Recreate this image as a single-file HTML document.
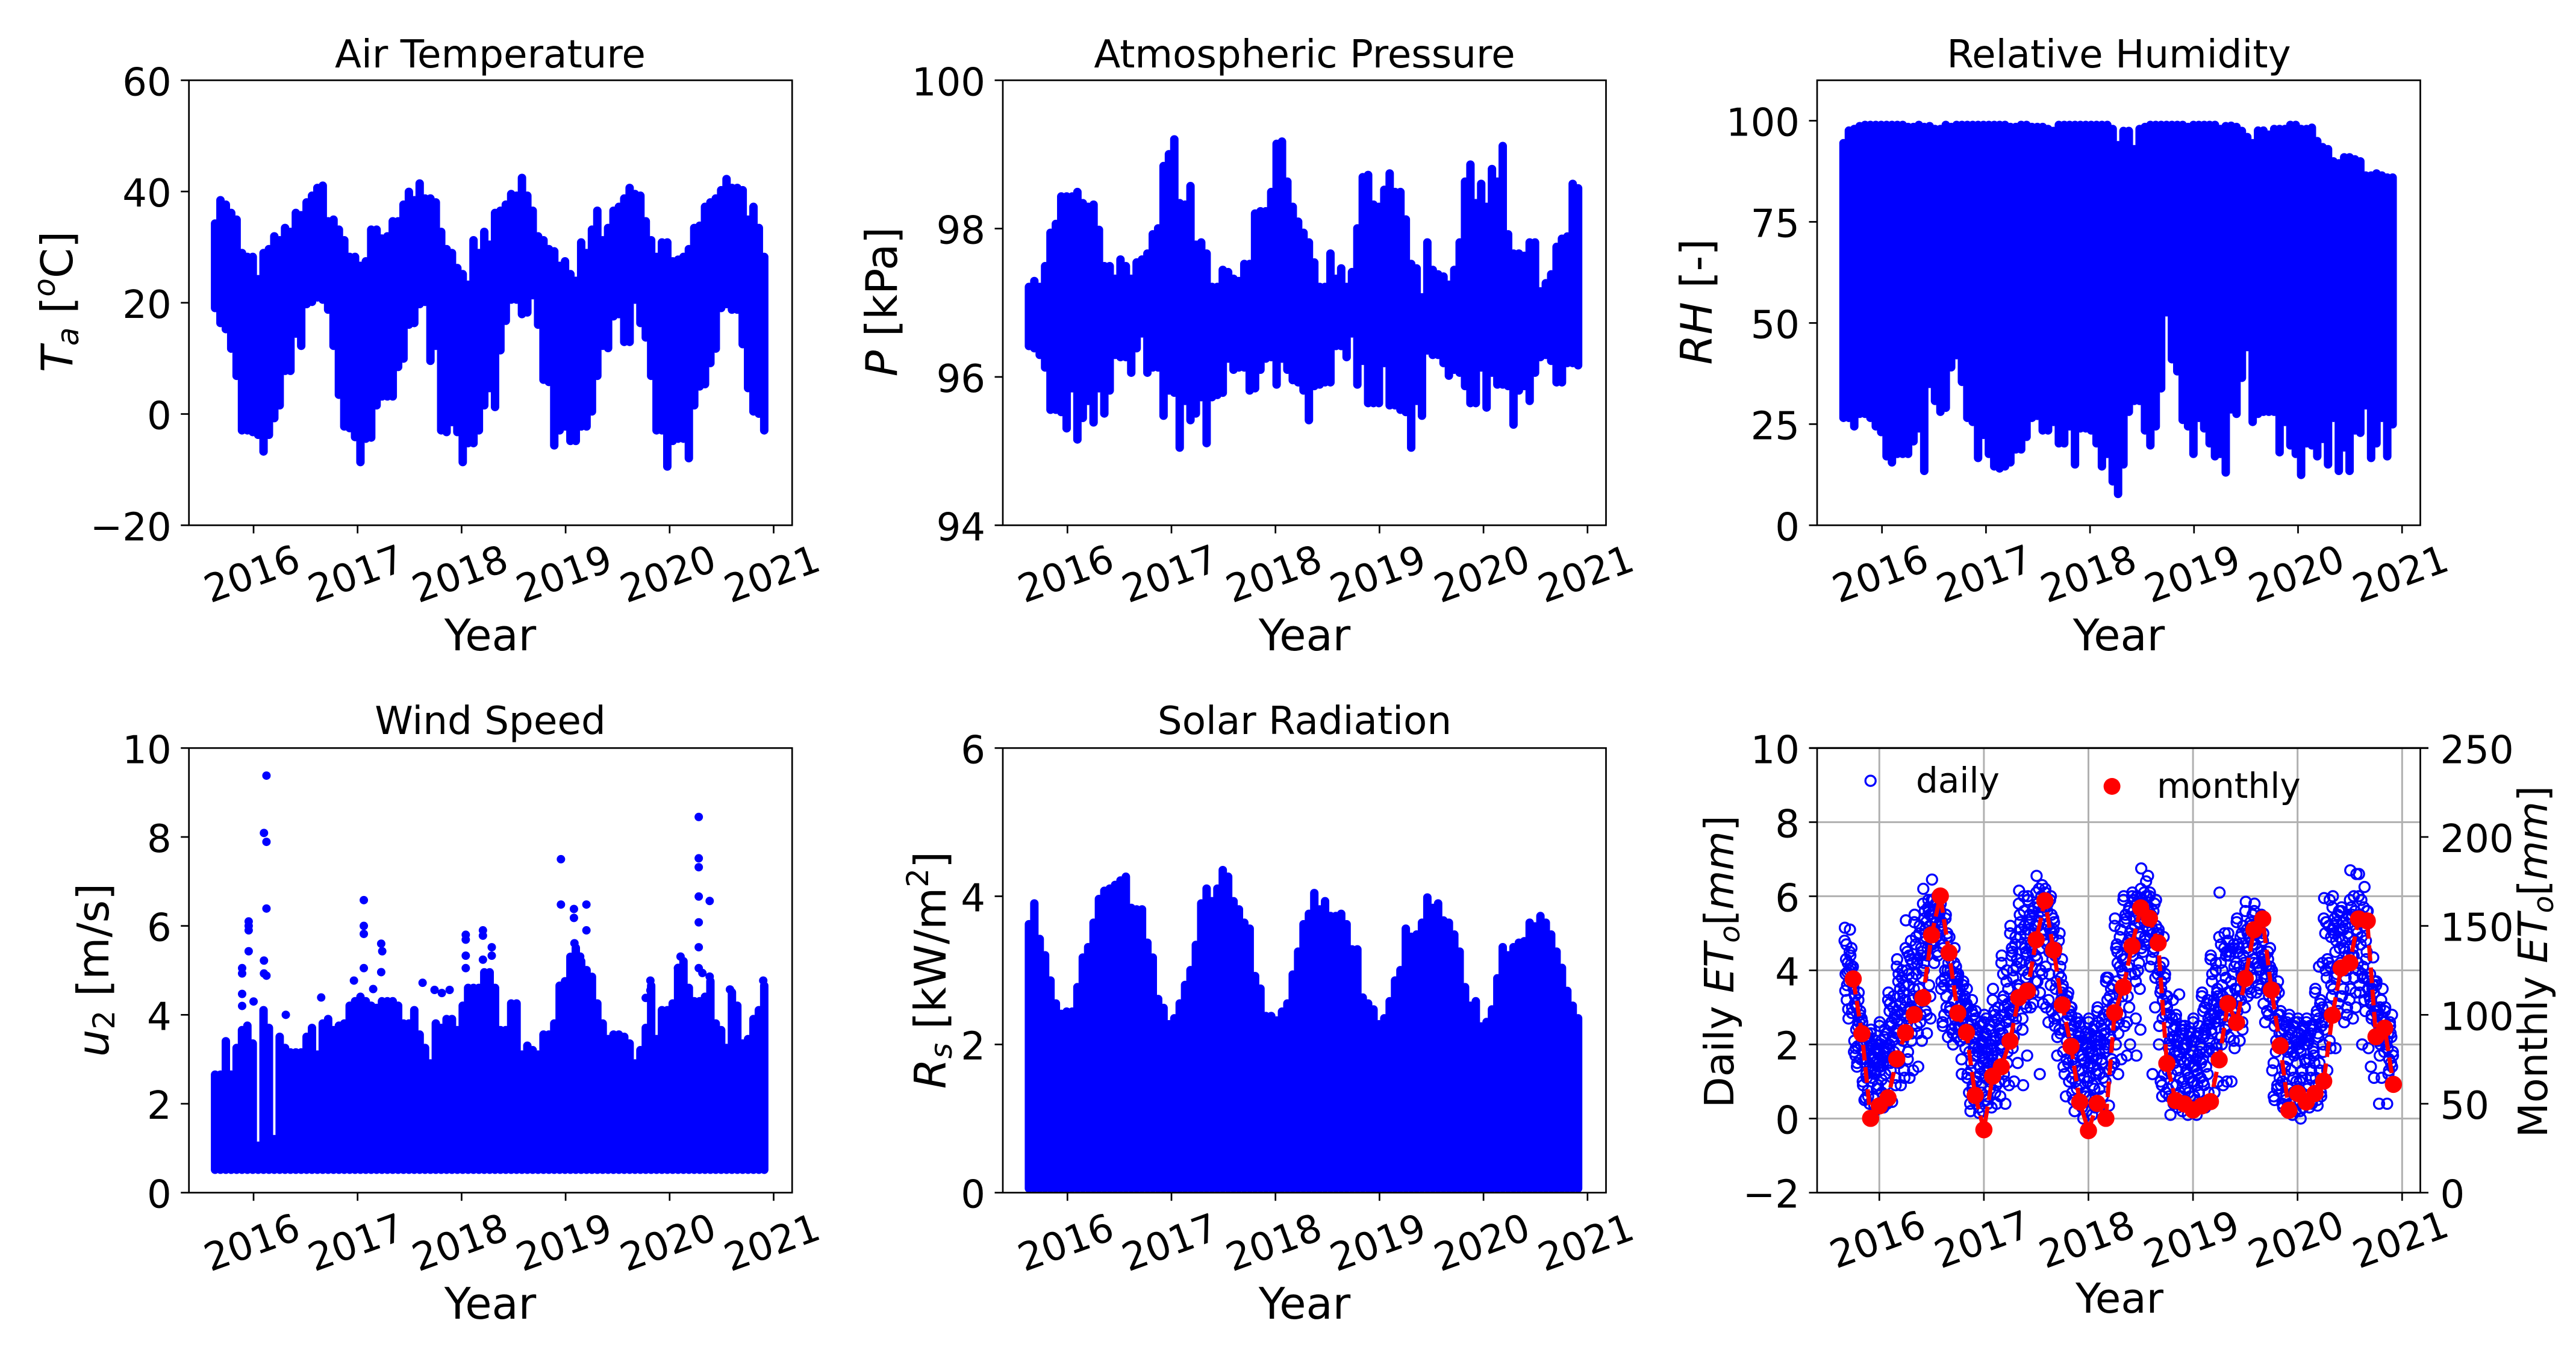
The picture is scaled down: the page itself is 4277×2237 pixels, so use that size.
<!DOCTYPE html>
<html lang="en">
<head>
<meta charset="utf-8">
<title>Weather variables and reference evapotranspiration, 2015-2020</title>
<style>
html,body{margin:0;padding:0;background:#fff;}
svg{display:block;}
text{font-family:"DejaVu Sans","Liberation Sans",sans-serif;fill:#000;}
.title{font-size:64.3px;text-anchor:middle;}
.xl{font-size:72px;text-anchor:middle;}
.yl{font-size:72px;text-anchor:middle;}
.yl6{font-size:67px;text-anchor:middle;}
.leg{font-size:58px;}
.i{font-style:italic;}
</style>
</head>
<body>
<svg id="chart" xmlns="http://www.w3.org/2000/svg" width="4277" height="2237" viewBox="0 0 4277 2237">
<rect x="0" y="0" width="4277" height="2237" fill="#fff"/>
<g id="marks"></g>
<g id="axes"></g>

<text class="title" x="814" y="112">Air Temperature</text>
<text class="title" x="2166" y="112">Atmospheric Pressure</text>
<text class="title" x="3518" y="112">Relative Humidity</text>
<text class="title" x="814" y="1219">Wind Speed</text>
<text class="title" x="2166" y="1219">Solar Radiation</text>

<text class="xl" x="814" y="1080">Year</text>
<text class="xl" x="2166" y="1080">Year</text>
<text class="xl" x="3518" y="1080">Year</text>
<text class="xl" x="814" y="2190">Year</text>
<text class="xl" x="2166" y="2190">Year</text>
<text class="xl" style="font-size:69px" x="3519" y="2180">Year</text>

<text class="yl" transform="translate(120,501) rotate(-90)"><tspan class="i">T</tspan><tspan class="i" font-size="50" dy="10">a</tspan><tspan dy="-10">&#160;[</tspan><tspan class="i" font-size="50" dy="-29">o</tspan><tspan dy="29">C]</tspan></text>
<text class="yl" transform="translate(1489,501) rotate(-90)"><tspan class="i">P</tspan>&#160;[kPa]</text>
<text class="yl" transform="translate(2842,501) rotate(-90)"><tspan class="i">RH</tspan>&#160;[-]</text>
<text class="yl" transform="translate(180,1611) rotate(-90)"><tspan class="i">u</tspan><tspan font-size="50" dy="10">2</tspan><tspan dy="-10">&#160;[m/s]</tspan></text>
<text class="yl" transform="translate(1570,1611) rotate(-90)"><tspan class="i">R</tspan><tspan class="i" font-size="50" dy="10">s</tspan><tspan dy="-10">&#160;[kW/m</tspan><tspan font-size="50" dy="-29">2</tspan><tspan dy="29">]</tspan></text>
<text class="yl6" transform="translate(2878,1597) rotate(-90)">Daily&#160;<tspan class="i">ET</tspan><tspan class="i" font-size="47" dy="10">o</tspan><tspan dy="-10">[</tspan><tspan class="i">mm</tspan>]</text>
<text class="yl6" transform="translate(4229,1597) rotate(-90)">Monthly&#160;<tspan class="i">ET</tspan><tspan class="i" font-size="47" dy="10">o</tspan><tspan dy="-10">[</tspan><tspan class="i">mm</tspan>]</text>

<g>
<circle cx="3105.7" cy="1296.7" r="8.5" fill="none" stroke="#0000ff" stroke-width="3.3"/>
<text class="leg" x="3181" y="1316">daily</text>
<circle cx="3506.6" cy="1306" r="14" fill="#ff0000"/>
<text class="leg" x="3581" y="1325">monthly</text>
</g>
</svg>

<script>
// ---------- shared axis labels ----------
const yearTicks = [2016, 2017, 2018, 2019, 2020, 2021];
const taTicks = [-20, 0, 20, 40, 60];
const pTicks = [94, 96, 98, 100];
const rhTicks = [0, 25, 50, 75, 100];
const windTicks = [0, 2, 4, 6, 8, 10];
const solarTicks = [0, 2, 4, 6];
const dailyTicks = [-2, 0, 2, 4, 6, 8, 10];
const monthlyTicks = [0, 50, 100, 150, 200, 250];

// ---------- envelopes of the dense hourly clouds (one column per bandStep years) ----------
const bandStart = 2015.63;
const bandStep = 0.05176;

const taHigh = [35,39.2,38.4,36.9,35.7,29.7,29,29,25,29.7,30.4,32.7,32,34.2,33.5,36.9,36.5,38.8,40,41.4,41.8,35.4,35.7,33.9,32,29,29,27.4,28.2,33.9,33.9,32.3,32.7,35.4,35.4,38.4,40.7,39.2,42.2,39.5,39.5,38.8,33.5,30.4,29.7,27,25.9,24,32,29.7,33.5,31.2,36.9,37.3,38.4,40.3,40,43.2,40,37.3,32.7,32,30.4,30,27.4,28.2,25.9,24.7,31.6,29.7,33.9,37.3,32,34.2,37.3,38,39.5,41.4,40.3,40,35.4,32,29,31.6,31.6,28.2,28.5,29,30.4,34.2,34.6,38,38.8,39.5,41,43,41.4,41.4,41,35.7,38,34.2,29];
const taLow = [18.3,15.6,14.5,11,6.1,-3.7,-3.7,-4,-4.5,-7.5,-4.5,-1.5,0.8,7,7,13.7,11.5,19,19.4,20.2,19.8,18,11.5,2.7,-3,-3.3,-4.9,-9.4,-5.2,-5,0.8,2.4,2.4,2.4,7.7,9.2,15.3,15.6,19,19.4,8.8,11.5,-3.7,-4,-2.2,-4,-9.4,-6,-6,-3.7,0.8,3.9,0.5,10.7,16,19.8,19.8,17.2,17.5,20.6,15.3,5.4,5,-6.4,-3.7,-3,-5.6,-5.6,-3,-3,-0.3,6.1,11.5,11.1,16.8,17.2,12.2,12.2,19.8,15.6,13,6.1,-3.7,-3.7,-10.2,-5.6,-5.2,-5.2,-8.7,0.8,4.2,4.6,8.4,11,18.3,19,18,18,11.8,3.9,-0.3,-0.7,-3.7];

const pHigh = [97.27,97.35,97.27,97.55,98,98.12,98.49,98.49,98.49,98.55,98.4,98.35,98.38,98.04,97.55,97.55,97.38,97.64,97.55,97.38,97.6,97.64,97.72,97.98,98.06,98.9,99.06,99.26,98.4,98.38,98.63,97.84,97.87,97.72,97.27,97.27,97.5,97.47,97.38,97.35,97.58,97.58,98.26,98.29,98.29,98.55,99.2,99.23,98.69,98.35,98.15,98,97.87,97.6,97.27,97.27,97.72,97.38,97.52,97.27,97.47,98.06,98.75,98.78,98.38,98.35,98.58,98.8,98.55,98.55,98.18,97.58,97.52,97.13,97.87,97.5,97.44,97.41,97.3,97.5,97.87,98.69,98.92,98.4,98.66,98.35,98.86,98.69,99.17,97.98,97.72,97.72,97.69,97.87,97.87,97.21,97.32,97.44,97.81,97.92,97.95,98.66,98.6];
const pLow = [96.36,96.33,96.24,96.07,95.5,95.5,95.47,95.25,95.79,95.1,95.39,95.62,95.33,95.79,95.45,95.76,96.24,96.21,96.21,96,96.33,96.53,96,96.07,96.07,95.42,95.76,95.73,94.99,95.62,95.36,95.45,95.67,95.05,95.67,95.7,95.73,96.19,96.04,96.07,96.07,95.76,95.79,96.04,96.19,96.21,95.84,96.19,96.04,95.9,95.87,95.76,95.36,95.82,95.84,95.87,95.87,96.36,96.36,96.21,96.53,95.84,96.16,95.59,95.59,95.59,96.13,95.56,95.56,95.5,95.47,94.99,95.62,95.42,96.3,96.24,96.24,96.13,95.96,96.04,96,95.82,95.59,95.59,96.07,95.53,96,95.84,95.84,95.82,95.3,95.76,95.82,95.62,96,96.21,96.24,96.16,95.87,95.87,96.13,96.13,96.1];

const rhHigh = [95.5,98.6,99,99.7,100,100,100,100,100,100,100,100,99.5,99.5,100,99.5,99.7,99,99,100,99.5,100,100,100,100,100,100,100,100,100,100,99.5,99.5,100,100,99.5,99.5,99.5,99,98.5,100,100,100,100,100,100,100,100,100,100,99,95,98.5,98.5,94,99,99.5,100,100,100,100,100,100,100,99.5,100,100,100,100,100,99,99.7,99.8,99.5,98.5,97,95.5,98.6,98.6,97.6,99,99,99,100,100,99,99,99.3,96,94.5,94,91,90.5,92,92,91.5,91,87.5,87.5,88,87.5,87,87];
const rhLow = [25.5,25.5,23.4,26.5,26.5,25.5,23.4,22,16,14.5,16.6,16.6,16.6,19.7,22.9,12.4,33.9,29.7,27,28,38,41,34.4,25.5,24.5,15.6,21.3,16.6,13.5,13,13.5,14.5,17.7,17.7,20.8,25.5,26,22.4,22.4,24.5,19.2,19.2,23.4,14,22.9,22.9,22.4,19.2,13.5,16.6,9.8,6.7,14,27,29.7,29.7,22.4,18.7,23.4,32.8,51.6,40,37,25,23.4,16.6,25.5,22.9,19.2,16,16.6,12,27.6,26.5,35.4,43,24.5,26.5,27,27,27,17,24.5,18.7,16.6,11.4,19.2,18.7,16,20.3,14,25.5,12.4,18.2,12.4,22.4,21.8,28.6,15.6,19.2,25.5,16,23.9];

const windHigh = [2.75,2.75,3.5,2.75,3.35,3.75,3.85,3.45,1.15,4.2,3.8,1.3,3.6,3.35,3.25,3.25,3.25,3.6,3.8,3.2,3.9,4,3.75,3.85,3.9,4.3,4.4,4.5,4.4,4.3,4.25,4.4,4.4,4.4,4.3,3.9,3.9,4.2,3.65,3.35,3,3.9,3.8,4,4,3.75,4.3,4.7,4.7,4.7,5.05,5.05,4.7,3.75,3.75,4.35,4.35,3.2,3.4,3.3,3.2,3.65,3.65,3.9,4.75,4.85,5.4,5.6,5.3,5.1,4.95,4.35,3.9,3.55,3.65,3.65,3.6,3.45,3,3.3,3.8,4.75,3.55,4.2,4.2,4.35,5.15,5.3,4.7,4.4,4.4,4.5,4.85,3.9,3.75,3.35,4.6,4.3,3.45,3.55,4,4.2,4.75];
const windFloor = 0.42;
const gustTimes = [2016.124,2016.10,2016.124,2016.124,2015.953,2015.953,2015.953,2015.953,2015.89,2015.89,2016.10,2016.10,2016.124,2015.89,2015.89,2017.06,2017.06,2017.06,2017.227,2017.237,2017.227,2017.06,2016.965,2017.15,2017.625,2017.74,2017.885,2017.81,2018.04,2018.04,2018.04,2018.04,2018.205,2018.205,2018.29,2018.29,2018.205,2018.955,2018.955,2019.08,2019.08,2019.2,2019.2,2019.085,2019.14,2020.28,2020.28,2020.28,2020.28,2020.385,2020.28,2020.28,2020.105,2020.08,2020.095,2020.28,2020.315,2020.385,2020.58,2020.90,2019.815,2019.815,2019.77,2016.31,2016.65,2016.0];
const gustSpeeds = [9.38,8.09,7.89,6.39,6.1,6.0,5.9,5.43,5.05,4.93,5.22,4.93,4.88,4.47,4.2,6.58,6.0,5.82,5.6,5.43,4.96,5.05,4.77,4.58,4.72,4.56,4.56,4.49,5.8,5.69,5.33,5.05,5.9,5.78,5.52,5.33,5.24,7.5,6.48,6.38,6.18,6.48,5.9,5.61,5.31,8.45,7.52,7.32,6.66,6.56,6.08,5.52,5.31,5.05,4.86,5.05,4.94,4.86,4.57,4.77,4.77,4.55,4.38,4.0,4.39,4.3];

const solarHigh = [3.68,3.96,3.48,3.26,2.92,2.61,2.47,2.5,2.5,2.83,3.23,3.37,3.7,4.02,4.13,4.16,4.21,4.27,4.32,3.9,3.88,3.88,3.43,3.23,2.67,2.55,2.33,2.41,2.61,2.86,3.06,3.4,3.96,4.16,3.99,4.16,4.41,4.32,3.99,3.88,3.7,3.62,2.98,2.81,2.44,2.44,2.38,2.5,2.61,3,3.31,3.68,3.82,4.1,3.88,3.99,3.79,3.79,3.82,3.68,3.34,3.34,2.69,2.61,2.53,2.33,2.41,2.64,2.92,3.06,3.62,3.51,3.54,3.7,4.04,3.9,3.96,3.73,3.7,3.54,3.31,2.83,2.58,2.64,2.3,2.36,2.53,2.95,3.37,3.26,3.37,3.43,3.45,3.7,3.65,3.79,3.7,3.54,3.31,3.09,2.78,2.58,2.41];
const solarFloor = 0;

// ---------- reference evapotranspiration ----------
const dailyStart = 2015.667;
const dailyByMonth = [
[5.15,5.1,4.7,4.6,4.2,4.1,4.0,3.9,4.15,3.6,3.0,2.7],
[3.5,3.4,3.3,2.9,3.0,2.7,2.5,2.1,2.6,1.9,1.6,1.5],
[2.6,2.3,2.0,1.9,1.6,1.3,1.1,0.9,0.6,0.5,0.4,1.5],
[2.4,2.1,2.0,1.8,1.6,1.5,1.2,1.0,0.8,0.6,0.4,0.2],
[2.6,2.4,2.1,1.9,1.7,1.5,1.8,1.4,0.9,0.7,0.4,0.3],
[3.4,3.3,3.1,2.8,2.6,2.4,2.2,2.0,1.6,1.3,0.9,0.45],
[4.3,4.0,3.9,3.6,3.5,3.2,2.8,2.4,2.1,1.5,1.1,0.9],
[5.35,4.8,4.5,4.2,3.9,3.5,3.0,2.7,2.3,1.8,1.3,1.1],
[5.5,5.2,4.9,4.6,4.3,4.0,3.5,3.0,2.8,2.5,2.1,1.4],
[6.2,5.9,5.6,5.5,5.3,5.0,4.6,4.2,3.6,2.9,2.7,2.3],
[6.45,6.0,5.9,5.7,5.6,5.3,5.0,4.8,4.4,4.2,5.5,5.8],
[5.8,5.5,5.3,5.0,4.7,4.4,4.0,3.7,3.0,2.5,2.2,2.8],
[4.9,4.6,4.3,4.1,3.9,3.7,3.5,3.0,2.7,2.4,2.2,2.0],
[3.9,3.7,3.5,3.3,3.1,3.0,2.7,2.5,2.3,2.1,1.9,1.2],
[3.5,3.2,3.0,2.8,2.4,2.0,1.5,1.2,0.9,0.7,0.5,0.2],
[2.9,2.6,2.4,2.1,1.9,1.6,1.2,1.0,0.7,0.5,0.2,0.15],
[2.8,2.5,2.3,2.1,1.9,1.7,1.4,1.1,0.8,0.5,0.3,0.4],
[3.5,3.0,2.9,2.5,2.2,2.0,1.7,1.3,1.0,0.7,0.6,0.4],
[4.4,4.0,3.9,3.5,3.0,2.9,2.6,2.3,1.8,1.2,0.9,0.4],
[5.2,4.9,4.6,4.3,4.0,3.5,3.0,2.8,2.5,1.9,1.5,1.0],
[6.15,6.0,5.5,5.2,4.9,4.6,4.2,3.8,3.3,3.0,2.4,1.7,0.9],
[6.0,5.7,5.4,5.1,4.8,4.5,4.2,3.7,3.1,3.0],
[6.55,6.3,6.2,5.9,5.6,5.2,4.8,4.0,3.7,3.1,1.2],
[6.2,6.0,5.8,5.4,5.1,4.7,4.3,3.9,3.0,2.9,2.6],
[5.3,5.0,4.6,4.3,3.9,3.5,3.2,2.8,2.5,2.3,1.7],
[3.6,3.4,3.2,3.0,2.7,2.4,2.0,1.6,1.4,1.0,0.6],
[3.0,2.7,2.5,2.2,2.0,1.6,1.3,1.0,0.7,0.4,0.2],
[2.6,2.3,2.0,1.8,1.5,1.3,1.0,0.7,0.5,0.2,0.0],
[2.7,2.5,2.2,2.0,1.7,1.5,1.2,0.9,0.6,0.3,0.1],
[3.0,2.8,2.5,2.2,1.9,1.5,1.2,1.0,0.6,0.35],
[3.8,3.6,3.3,2.9,2.7,2.4,1.9,1.5,1.4,0.35],
[5.4,5.1,4.5,4.3,4.1,3.7,3.3,2.6,2.0,1.6,1.2],
[6.0,5.7,5.4,5.1,4.8,4.3,3.9,3.3,2.5,2.0,1.7],
[6.1,6.0,5.9,5.7,5.4,5.0,4.6,4.2,3.9,3.5,2.7,2.4,1.7],
[6.75,6.55,6.4,6.1,5.9,5.6,5.2,4.8,4.5],
[6.1,5.9,5.6,5.3,5.0,4.8,4.3,3.9,3.0,1.2],
[5.1,4.9,4.1,3.9,3.7,3.3,3.2,2.5,1.5,1.0,0.7,0.6],
[3.3,3.2,2.8,2.5,2.2,1.9,1.5,1.2,0.8,0.4,0.1],
[2.8,2.5,2.2,2.0,1.6,1.3,1.0,0.7,0.4,0.2,3.35],
[2.5,2.3,2.0,1.8,1.5,1.3,1.0,0.7,0.5,0.3,0.1],
[2.7,2.5,2.2,1.9,1.7,1.4,1.1,0.9,0.6,0.4,0.1],
[3.4,3.2,3.0,2.8,2.5,2.2,1.9,1.4,1.0,0.7,0.3],
[4.4,4.2,3.9,3.5,3.2,3.0,2.7,2.3,1.9,1.6,1.0,0.7],
[6.1,5.0,4.7,4.4,4.0,3.4,3.1,2.8,2.5,2.0,1.0,0.9],
[5.0,4.7,4.5,4.2,3.9,3.4,3.0,2.7,2.2,1.9,1.0],
[5.4,5.2,4.9,4.5,4.2,3.9,3.3,3.0,2.6,2.1],
[5.85,5.5,5.2,4.9,4.6,4.2,3.8,3.5,3.3],
[5.8,5.5,5.2,5.0,4.7,4.3,4.0,3.6,3.4],
[5.0,4.6,4.3,4.1,3.8,3.6,3.3,2.9,2.6],
[4.0,3.7,3.3,3.0,2.6,2.1,1.5,1.1,0.8,0.5],
[2.9,2.6,2.4,2.1,1.8,1.4,1.0,0.8,0.5,0.3],
[2.8,2.6,2.3,2.0,1.7,1.3,1.0,0.7,0.4,0.2,0.1],
[2.7,2.4,2.1,1.9,1.6,1.3,1.0,0.6,0.3,0.0],
[2.7,2.5,2.3,2.0,1.7,1.3,0.9,0.6,0.4,0.3],
[3.5,3.2,2.9,2.6,2.2,1.8,1.3,0.9,0.6,0.35,4.2,4.1],
[5.95,5.9,5.3,5.1,4.2,4.0,3.6,3.0,2.6,1.9,1.3],
[6.0,5.6,5.3,5.0,4.6,4.1,3.8,3.3,2.9,1.9],
[5.7,5.5,5.2,4.8,4.4,4.0,3.5,3.2,2.8,2.6],
[6.7,6.6,6.0,5.7,5.3,4.8,4.4,4.0,3.4,2.7],
[6.6,6.25,5.9,5.6,5.2,4.7,4.3,3.8,3.4,2.9,2.0],
[5.6,4.35,3.9,3.7,3.5,3.3,2.9,2.7,1.9,1.1,1.4],
[3.7,3.5,3.0,2.8,2.6,2.4,2.1,1.8,1.1,0.4],
[3.0,2.8,2.5,2.3,2.0,1.7,1.5,1.3,0.4]
];
// Further daily readings from the dense core of each month's cloud.
const dailyCoreByMonth = [
[4.8,4.5,4.3,4.05,3.95,3.8,3.7,3.45,4.4,3.2,2.85,2.95],
[3.6,3.2,3.1,2.8,2.4,2.2,1.95,1.8,2.3,1.7,2.0,1.4],
[2.4,2.2,1.8,1.7,1.5,1.4,1.2,1.0,0.75,1.8,2.1,0.55],
[2.3,1.9,1.7,1.9,1.5,1.4,1.3,1.1,2.0,1.6,0.9,0.35],
[2.5,2.2,2.0,1.8,1.6,2.3,1.9,1.3,1.2,1.05,0.6,1.5],
[3.2,3.0,2.9,2.7,2.5,2.3,2.1,1.9,1.8,1.5,1.1,2.6],
[4.1,3.8,3.7,3.4,3.3,3.0,2.6,2.9,2.2,1.9,1.3,3.1],
[4.6,4.3,4.0,3.8,3.6,3.3,2.9,2.5,2.1,1.6,3.2,4.4],
[5.3,5.0,4.7,4.4,4.2,3.8,3.3,2.9,2.6,3.9,4.5,2.3],
[5.8,5.7,5.4,5.2,4.9,4.7,4.4,4.0,5.6,5.1,3.3,2.8],
[5.9,5.8,5.6,5.5,5.4,5.2,4.9,4.7,4.5,5.1,5.7,5.3],
[5.6,5.4,5.1,4.9,4.6,4.2,3.8,3.5,3.3,2.6,4.0,3.6],
[4.4,4.2,4.0,3.8,3.6,3.4,3.2,2.9,2.5,3.7,3.9,2.3],
[3.8,3.6,3.4,3.2,2.9,2.8,2.6,2.4,2.2,3.3,3.0,1.6],
[3.1,2.9,2.6,2.2,1.8,1.7,1.3,1.1,0.8,2.5,1.9,0.4],
[2.7,2.5,2.2,2.0,1.8,1.5,1.4,1.1,0.9,2.3,1.7,0.3],
[2.6,2.4,2.2,2.0,1.8,1.6,1.5,1.3,1.0,2.7,1.9,0.6],
[3.2,2.7,2.6,2.4,2.1,1.9,1.6,1.5,1.2,2.8,2.3,0.9],
[4.2,3.7,3.2,3.1,2.8,2.4,2.1,2.0,1.5,3.3,2.7,1.0],
[5.0,4.7,4.4,4.1,3.8,3.3,3.2,2.9,2.7,4.5,3.6,2.2],
[5.8,5.6,5.3,5.0,4.7,4.4,4.0,3.6,3.1,5.1,4.5,2.7],
[5.9,5.6,5.3,5.0,4.7,4.4,4.1,3.9,3.4,5.5,5.2,4.6],
[6.1,6.0,5.8,5.5,5.3,5.0,4.6,4.3,3.9,5.7,5.1,3.4],
[6.1,5.9,5.7,5.5,5.2,4.9,4.5,4.1,3.6,5.6,5.0,3.2],
[5.1,4.8,4.4,4.1,3.7,3.4,3.0,2.7,2.4,4.5,3.8,2.2],
[3.5,3.3,3.1,2.8,2.6,2.3,2.1,1.8,1.5,1.2,2.9,3.2],
[2.8,2.6,2.4,2.1,1.9,1.7,1.4,1.1,0.8,0.5,2.3,1.5],
[2.5,2.2,2.1,1.9,1.7,1.4,1.1,0.9,0.6,0.3,2.0,1.6],
[2.6,2.4,2.3,2.1,1.9,1.6,1.4,1.1,0.8,0.5,2.2,1.8],
[2.9,2.7,2.6,2.4,2.1,1.8,1.6,1.3,1.1,0.8,2.3,2.0],
[3.7,3.5,3.2,3.0,2.8,2.5,2.2,2.0,1.6,3.8,3.1,1.3],
[5.2,4.9,4.6,4.4,4.2,3.9,3.5,3.1,2.8,4.7,4.0,2.3],
[5.9,5.6,5.3,5.0,4.7,4.5,4.1,3.6,3.0,5.5,4.9,2.6],
[6.0,5.8,5.6,5.5,5.2,4.9,4.7,4.4,4.0,5.9,5.3,3.7],
[6.2,6.0,5.8,5.7,5.4,5.1,4.9,4.6,6.0,5.5,5.3,4.7],
[6.0,5.8,5.5,5.2,5.1,4.9,4.6,4.1,3.8,5.4,4.7,4.5],
[5.0,4.2,4.0,3.8,3.5,3.1,2.7,2.0,1.2,3.4,2.8,0.9],
[3.0,2.7,2.6,2.4,2.1,1.8,1.6,1.3,0.9,0.6,2.2,2.0],
[2.7,2.4,2.1,1.9,1.7,1.5,1.1,0.9,0.6,0.3,2.3,1.8],
[2.4,2.2,1.9,1.7,1.6,1.4,1.1,0.8,0.6,0.4,2.1,1.2],
[2.6,2.3,2.1,1.8,1.6,1.5,1.2,1.0,0.7,0.5,2.0,1.3],
[3.3,3.1,2.9,2.7,2.4,2.1,1.8,1.6,1.2,0.9,2.6,2.3],
[4.3,4.0,3.7,3.4,3.1,2.9,2.6,2.4,2.0,1.8,3.3,2.8],
[4.9,4.6,4.2,3.8,3.6,3.2,3.0,2.7,2.4,2.2,4.5,3.3],
[4.8,4.6,4.4,4.1,3.7,3.2,2.9,2.5,2.1,4.5,3.5,3.1],
[5.3,5.0,4.7,4.4,4.1,3.7,3.2,2.9,2.4,4.6,4.0,3.5],
[5.6,5.3,5.1,4.8,4.5,4.3,4.0,3.6,3.4,5.0,4.7,4.1],
[5.6,5.3,5.1,4.9,4.6,4.4,4.1,3.8,3.5,5.0,4.5,4.2],
[4.8,4.5,4.2,4.0,3.9,3.7,3.5,3.1,2.8,4.4,4.1,3.8],
[3.9,3.5,3.2,2.8,2.5,2.3,1.8,1.3,0.9,0.6,3.4,2.7],
[2.8,2.5,2.3,2.0,1.9,1.6,1.2,0.9,0.6,0.4,2.2,2.4],
[2.7,2.5,2.4,2.2,1.9,1.5,1.1,0.8,0.5,0.3,2.1,1.8],
[2.6,2.5,2.3,2.0,1.8,1.5,1.1,0.8,0.5,0.2,2.2,2.1],
[2.6,2.4,2.2,1.9,1.6,1.5,1.1,0.8,0.5,2.1,1.8,2.5],
[3.4,3.1,2.8,2.5,2.3,2.0,1.5,1.1,0.7,0.5,3.0,2.7],
[5.4,5.2,5.0,4.1,3.8,3.3,2.8,2.4,2.1,5.3,4.9,4.3],
[5.7,5.5,5.2,4.9,4.5,4.2,3.9,3.5,3.1,5.4,5.1,4.8],
[5.6,5.4,5.3,5.0,4.6,4.2,3.8,3.3,3.0,5.1,4.9,4.5],
[5.9,5.6,5.4,5.1,4.6,4.2,3.8,3.5,3.0,5.5,5.0,4.4],
[6.0,5.7,5.5,5.3,4.9,4.5,4.1,3.6,3.2,5.4,4.8,3.9],
[3.8,3.6,3.7,3.4,3.2,3.0,2.8,3.5,3.6,3.3,3.7,3.1],
[3.6,3.2,2.9,2.7,2.5,2.3,2.0,2.6,2.4,2.8,2.2,1.7],
[2.9,2.6,2.4,2.2,1.9,1.8,1.6,2.5,2.3,2.1,1.4,1.2]
];

const monthlyStart = 2015.75;
const monthlyET = [120.2,89.4,41.8,48.8,53.3,75.2,90,100.1,109.5,144.9,166.8,134.9,101,90.1,54.7,35.4,65.5,70.8,85.2,109.7,113.4,142.2,164.1,136.4,105.6,82.3,51,34.9,50.2,41.8,101.2,115.6,138.7,160.1,154.3,140.4,72.7,51.8,49.9,46.5,48.8,51.2,74.7,106.3,95.6,120.4,147.8,153.9,114,82.6,46.3,55.8,51,55.8,62.7,99.8,126.3,129.2,153.9,152.8,87.7,92.5,60.9];

// ---------- drawing ----------
const SVGNS = 'http://www.w3.org/2000/svg';
const marksLayer = document.getElementById('marks');
const axesLayer = document.getElementById('axes');
const YEAR_PX = 172.7;
const MARKER_R = 7;

function make(tag, attrs, parent) {
  const node = document.createElementNS(SVGNS, tag);
  Object.keys(attrs).forEach(function (k) { node.setAttribute(k, attrs[k]); });
  parent.appendChild(node);
  return node;
}

function xScale(p) {
  return function (t) { return p.x2016 + (t - 2016) * p.yearPx; };
}
function yScale(p, lo, hi) {
  return function (v) { return p.bottom - (v - lo) / (hi - lo) * (p.bottom - p.top); };
}

function drawTick(x1, y1, x2, y2, name) {
  const tick = make('line', {x1: x1, y1: y1, x2: x2, y2: y2, stroke: '#000', 'stroke-width': 2.7}, axesLayer);
  
  
}

function drawAxes(p, yTicks, y, key) {
  const x = xScale(p);
  yearTicks.forEach(function (yr) {
    drawTick(x(yr), p.bottom, x(yr), p.bottom + 13.5, key + '-x-tick');
    const label = make('text', {transform: 'translate(' + (x(yr) - 3) + ',' + (p.bottom + p.labelOffset) + ') rotate(-20)', 'text-anchor': 'middle', 'font-size': 64, y: 23}, axesLayer);
    label.textContent = String(yr);
    
    
  });
  yTicks.forEach(function (v) {
    drawTick(p.left - 13.5, y(v), p.left, y(v), key + '-y-tick');
    const label = make('text', {x: p.left - 29, y: y(v) + 25, 'text-anchor': 'end', 'font-size': 64}, axesLayer);
    label.textContent = String(v).replace('-', '\u2212');
    
    
  });
  const frame = make('rect', {x: p.left, y: p.top, width: p.right - p.left, height: p.bottom - p.top, fill: 'none', stroke: '#000', 'stroke-width': 2.7}, axesLayer);
  
  
}

function panelGroup(p, key) {
  const clip = make('clipPath', {id: 'clip-' + key}, marksLayer);
  make('rect', {x: p.left, y: p.top, width: p.right - p.left, height: p.bottom - p.top}, clip);
  const g = make('g', {'clip-path': 'url(#clip-' + key + ')'}, marksLayer);
  
  
  return g;
}

// The envelope values read the outer edge of the cloud, so caps are inset by the marker radius.
function drawBand(g, p, y, highs, lows, key) {
  const x = xScale(p);
  highs.forEach(function (hi, i) {
    const lo = Array.isArray(lows) ? lows[i] : lows;
    const px = x(bandStart + i * bandStep);
    let top = y(hi) + MARKER_R;
    let bot = y(lo) - MARKER_R;
    if (top > bot) { top = bot = (top + bot) / 2; }
    const col = make('line', {x1: px, x2: px, y1: top, y2: bot, stroke: '#0000ff', 'stroke-width': MARKER_R * 2, 'stroke-linecap': 'round'}, g);
    
    
  });
}

const col1 = {left: 313.7, right: 1315.2, x2016: 421, yearPx: YEAR_PX};
const col2 = {left: 1665, right: 2666.5, x2016: 1772.3, yearPx: YEAR_PX};
const col3 = {left: 3017, right: 4018.5, x2016: 3124.7, yearPx: YEAR_PX};
const row1 = {top: 133.3, bottom: 872.3, labelOffset: 80};
const row2 = {top: 1242.3, bottom: 1980.7, labelOffset: 82};

const pTa = Object.assign({}, col1, row1);
const pP = Object.assign({}, col2, row1);
const pRH = Object.assign({}, col3, row1);
const pWind = Object.assign({}, col1, row2);
const pSolar = Object.assign({}, col2, row2);
const pET = Object.assign({}, col3, row2, {x2016: 3120.3, yearPx: 173.6, labelOffset: 77});

const yTa = yScale(pTa, -20, 60);
drawBand(panelGroup(pTa, 'air-temperature'), pTa, yTa, taHigh, taLow, 'air-temperature');
drawAxes(pTa, taTicks, yTa, 'air-temperature');

const yP = yScale(pP, 94, 100);
drawBand(panelGroup(pP, 'atmospheric-pressure'), pP, yP, pHigh, pLow, 'atmospheric-pressure');
drawAxes(pP, pTicks, yP, 'atmospheric-pressure');

const yRH = yScale(pRH, 0, 110);
drawBand(panelGroup(pRH, 'relative-humidity'), pRH, yRH, rhHigh, rhLow, 'relative-humidity');
drawAxes(pRH, rhTicks, yRH, 'relative-humidity');

const yWind = yScale(pWind, 0, 10);
const windGroup = panelGroup(pWind, 'wind-speed');
drawBand(windGroup, pWind, yWind, windHigh, windFloor, 'wind-speed');
const xWind = xScale(pWind);
gustTimes.forEach(function (t, i) {
  const gust = make('circle', {cx: xWind(t), cy: yWind(gustSpeeds[i]), r: MARKER_R, fill: '#0000ff'}, windGroup);
  
  
});
drawAxes(pWind, windTicks, yWind, 'wind-speed');

const ySolar = yScale(pSolar, 0, 6);
drawBand(panelGroup(pSolar, 'solar-radiation'), pSolar, ySolar, solarHigh, solarFloor, 'solar-radiation');
drawAxes(pSolar, solarTicks, ySolar, 'solar-radiation');

// Evapotranspiration panel
const yDaily = yScale(pET, -2, 10);
const yMonthly = yScale(pET, 0, 250);
const xET = xScale(pET);
yearTicks.forEach(function (yr) {
  const gridV = make('line', {x1: xET(yr), x2: xET(yr), y1: pET.top, y2: pET.bottom, stroke: '#b0b0b0', 'stroke-width': 3}, marksLayer);
  
  
});
dailyTicks.forEach(function (v) {
  const gridH = make('line', {x1: pET.left, x2: pET.right, y1: yDaily(v), y2: yDaily(v), stroke: '#b0b0b0', 'stroke-width': 3}, marksLayer);
  
  
});
const etGroup = panelGroup(pET, 'evapotranspiration');
function drawDaily(rows, shift) {
  rows.forEach(function (values, m) {
    values.forEach(function (v, j) {
      // readings within a month are stored high-to-low; the stride spreads them across the month's width
      const slot = (j * 7) % values.length;
      const t = dailyStart + (m + (slot + shift) / values.length) / 12;
      const pt = make('circle', {cx: xET(t), cy: yDaily(v), r: 8.5, fill: 'none', stroke: '#0000ff', 'stroke-width': 3.3}, etGroup);
      
      
    });
  });
}
drawDaily(dailyByMonth, 0.5);
drawDaily(dailyCoreByMonth, 0.1);
const monthlyPts = monthlyET.map(function (v, i) {
  return xET(monthlyStart + i / 12).toFixed(1) + ',' + yMonthly(v).toFixed(1);
}).join(' ');
const monthlyLine = make('polyline', {points: monthlyPts, fill: 'none', stroke: '#ff0000', 'stroke-width': 7, 'stroke-dasharray': '26 11'}, etGroup);


monthlyET.forEach(function (v, i) {
  const dot = make('circle', {cx: xET(monthlyStart + i / 12), cy: yMonthly(v), r: 14.3, fill: '#ff0000'}, etGroup);
  
  
});
drawAxes(pET, dailyTicks, yDaily, 'evapotranspiration');
monthlyTicks.forEach(function (v) {
  drawTick(pET.right, yMonthly(v), pET.right + 13.5, yMonthly(v), 'monthly-et-y-tick');
  const label = make('text', {x: pET.right + 33, y: yMonthly(v) + 25, 'font-size': 64}, axesLayer);
  label.textContent = String(v);
  
  
});
const topSpine = make('line', {x1: pET.left - 13.5, x2: pET.right + 13.5, y1: pET.top, y2: pET.top, stroke: '#000', 'stroke-width': 3}, axesLayer);


</script>
</body>
</html>
